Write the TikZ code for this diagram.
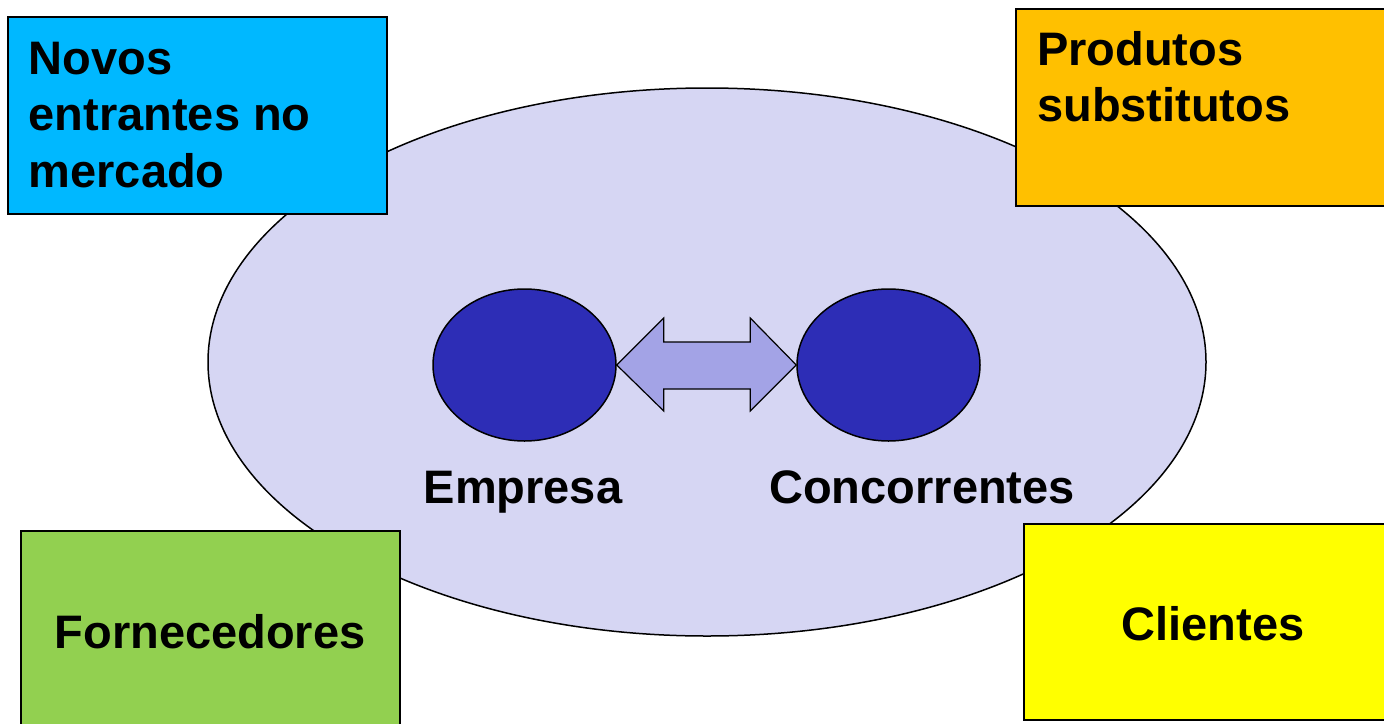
\documentclass[tikz,border=0pt]{standalone}
\usepackage{fontspec}
\setmainfont{Liberation Sans}
\usetikzlibrary{calc,shapes.geometric}
\definecolor{bigfill}{RGB}{214,214,243}
\definecolor{smallfill}{RGB}{45,45,182}
\definecolor{arrowfill}{RGB}{163,163,230}
\definecolor{cyanbox}{RGB}{0,184,255}
\definecolor{orangebox}{RGB}{255,192,0}
\definecolor{greenbox}{RGB}{146,208,80}
\definecolor{yellowbox}{RGB}{255,255,0}
\tikzset{
  box/.style={draw=black, line width=2pt, rectangle, inner sep=0pt},
  oval/.style={draw=black, line width=1.5pt, ellipse, inner sep=0pt},
  lbl/.style={inner sep=0pt, font=\fontsize{47}{56.5}\selectfont\bfseries}
}
\begin{document}
\begin{tikzpicture}[x=1pt,y=-1pt]
\useasboundingbox (0,0) rectangle (1384,723);
\clip (0,0) rectangle (1384,723);
\fill[white] (0,0) rectangle (1384,723);
% big ellipse
\node[oval, fill=bigfill, minimum width=998pt, minimum height=548pt] (big) at (707,362) {};
% small ellipses
\node[oval, fill=smallfill, minimum width=183pt, minimum height=152pt] (emp) at (524.5,365) {};
\node[oval, fill=smallfill, minimum width=183pt, minimum height=152pt] (con) at (888.5,365) {};
% double arrow
\draw[line width=1.2pt, fill=arrowfill, line join=miter]
  (emp.east) -- ($(emp.east)+(47,-47)$) -- ($(emp.east)+(47,-23)$)
  -- ($(con.west)+(-46,-23)$) -- ($(con.west)+(-46,-47)$) -- (con.west)
  -- ($(con.west)+(-46,46)$) -- ($(con.west)+(-46,24)$)
  -- ($(emp.east)+(47,24)$) -- ($(emp.east)+(47,46)$) -- cycle;
\node[lbl, anchor=base] (tEmp) at (523,503) {Empresa};
\node[lbl, anchor=base] (tCon) at (922,503) {Concorrentes};
% boxes
\node[box, fill=cyanbox, minimum width=379pt, minimum height=197pt] (bNov) at (197.5,115.5) {};
\node[box, fill=orangebox, minimum width=378pt, minimum height=197pt] (bPro) at (1205,107.5) {};
\node[box, fill=greenbox, minimum width=379pt, minimum height=200pt] (bFor) at (210.5,631) {};
\node[box, fill=yellowbox, minimum width=378pt, minimum height=196pt] (bCli) at (1213,622) {};
% box texts
\node[lbl, anchor=base west] (tNov1) at (28.5,74) {Novos};
\node[lbl, anchor=base west] (tNov2) at (28.5,130.5) {entrantes no};
\node[lbl, anchor=base west] (tNov3) at (28.5,187) {mercado};
\node[lbl, anchor=base west] (tPro1) at (1037,65) {Produtos};
\node[lbl, anchor=base west] (tPro2) at (1037,121.5) {substitutos};
\node[lbl, anchor=base] (tFor) at (210,648) {Fornecedores};
\node[lbl, anchor=base] (tCli) at (1213,640) {Clientes};
\end{tikzpicture}
\end{document}
